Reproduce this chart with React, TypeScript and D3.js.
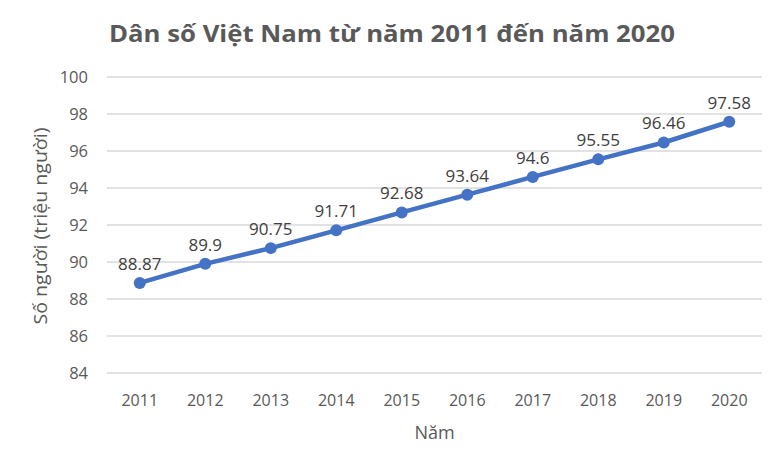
import * as d3 from "d3";

const years = ["2011", "2012", "2013", "2014", "2015", "2016", "2017", "2018", "2019", "2020"];
const population = [88.87, 89.9, 90.75, 91.71, 92.68, 93.64, 94.6, 95.55, 96.46, 97.58];
const yTicks = [84, 86, 88, 90, 92, 94, 96, 98, 100];

const W = 782;
const H = 462;
const margin = { top: 77, right: 20, bottom: 89, left: 107 };
const font = "'Open Sans', 'Noto Sans', sans-serif";

export default function App() {
  const x = d3
    .scaleBand()
    .domain(years)
    .range([margin.left, W - margin.right]);
  const y = d3
    .scaleLinear()
    .domain([84, 100])
    .range([H - margin.bottom, margin.top]);

  const cx = (d: string) => (x(d) as number) + x.bandwidth() / 2;

  const line = d3
    .line<number>()
    .x((_, i) => cx(years[i]))
    .y((d) => y(d));

  return (
    <svg
      width={W}
      height={H}
      style={{ position: "absolute", left: 0, top: 0, background: "#fff" }}
    >
      <text
        x={392}
        y={42}
        textAnchor="middle"
        fontFamily={font}
        fontWeight="bold"
        fontSize={24}
        fill="#595959"
        textLength={566}
        lengthAdjust="spacingAndGlyphs"
      >
        Dân số Việt Nam từ năm 2011 đến năm 2020
      </text>

      {/* gridlines + y ticks */}
      {yTicks.map((t) => (
        <g key={t}>
          <line
            x1={margin.left}
            x2={W - margin.right}
            y1={y(t)}
            y2={y(t)}
            stroke="#d9d9d9"
            strokeWidth={1.5}
          />
          <text
            x={88}
            y={y(t)}
            dy="0.35em"
            textAnchor="end"
            fontFamily={font}
            fontSize={16.5}
            fill="#595959"
          >
            {t}
          </text>
        </g>
      ))}

      {years.map((yr) => (
        <text
          key={yr}
          x={cx(yr)}
          y={406}
          textAnchor="middle"
          fontFamily={font}
          fontSize={16}
          fill="#595959"
        >
          {yr}
        </text>
      ))}

      <text
        x={cx("2015") + x.bandwidth() / 2}
        y={439}
        textAnchor="middle"
        fontFamily={font}
        fontSize={18}
        fill="#595959"
      >
        Năm
      </text>

      <text
        transform={`translate(41, ${(margin.top + H - margin.bottom) / 2 + 1}) rotate(-90)`}
        textAnchor="middle"
        dy="0.35em"
        fontFamily={font}
        fontSize={18}
        fill="#595959"
        textLength={197}
        lengthAdjust="spacingAndGlyphs"
      >
        Số người (triệu người)
      </text>

      <path
        d={line(population) as string}
        fill="none"
        stroke="#4472C4"
        strokeWidth={4.5}
        strokeLinejoin="round"
      />
      {population.map((v, i) => (
        <g key={years[i]}>
          <circle cx={cx(years[i])} cy={y(v)} r={6} fill="#4472C4" />
          <text
            x={cx(years[i])}
            y={y(v) - 13}
            textAnchor="middle"
            fontFamily={font}
            fontSize={17}
            fill="#404040"
          >
            {v}
          </text>
        </g>
      ))}
    </svg>
  );
}
